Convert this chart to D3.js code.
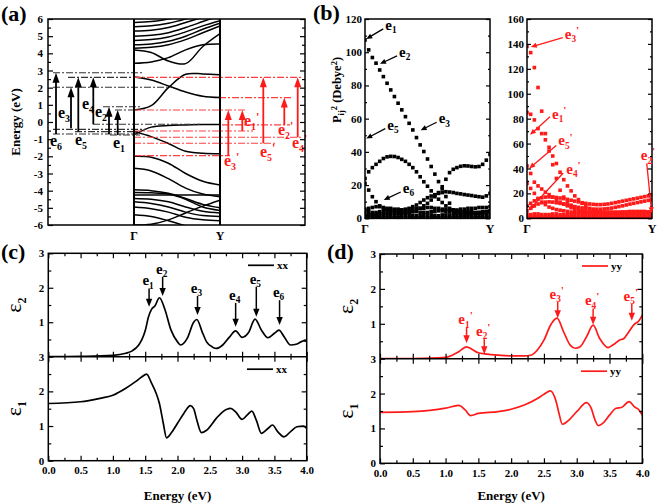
<!DOCTYPE html>
<html><head><meta charset="utf-8">
<script src="https://cdn.jsdelivr.net/npm/d3@7"></script>
<style>body{margin:0;background:#fff}</style>
</head><body><svg id="c" width="660" height="504"></svg>
<script>
// ================= DATA =================
// (a) band structure, energies (eV) at fractional k from Γ to Y
const kNodes = [0, 0.2, 0.4, 0.6, 0.8, 1.0];
const conductionBands = [
  [0.70, 0.95, 2.0, 2.78, 2.8, 2.75],
  [2.62, 2.45, 2.1, 1.75, 1.5, 1.42],
  [3.42, 3.5, 3.75, 4.2, 4.5, 4.55],
  [4.2, 4.05, 3.55, 3.4, 4.4, 5.15],
  [4.3, 4.35, 4.5, 4.8, 5.2, 5.6],
  [4.5, 4.55, 4.7, 5.0, 5.4, 5.75],
  [4.75, 4.8, 4.95, 5.25, 5.6, 5.9],
  [5.0, 5.05, 5.2, 5.5, 5.85, 6.2],
  [5.3, 5.35, 5.5, 5.8, 6.1, 6.4],
  [5.55, 5.6, 5.75, 6.0, 6.3, 6.5],
  [5.8, 5.85, 6.0, 6.2, 6.4, 6.6]
];
const valenceBands = [
  [-0.75, -0.3, -0.2, -0.17, -0.15, -0.15],
  [-0.55, -0.85, -1.25, -1.7, -1.82, -1.85],
  [-2.0, -2.05, -2.4, -3.0, -3.45, -3.67],
  [-2.7, -2.85, -3.3, -3.85, -4.2, -4.35],
  [-3.95, -4.0, -4.15, -4.45, -4.8, -5.0],
  [-4.1, -4.12, -4.2, -4.5, -4.95, -5.15],
  [-4.25, -4.25, -4.25, -4.25, -4.25, -4.25],
  [-4.45, -4.5, -4.65, -4.95, -5.2, -5.3],
  [-4.65, -4.75, -4.95, -5.25, -5.45, -5.5],
  [-4.95, -5.05, -5.25, -5.55, -5.7, -5.75],
  [-6.0, -5.95, -5.7, -5.3, -4.9, -4.55],
  [-5.4, -5.5, -5.75, -6.05, -6.3, -6.4]
];
const yTicksA = [-6,-5,-4,-3,-2,-1,0,1,2,3,4,5,6];
// transitions xx (black) and yy (red)
const xxLabels = ["6","3","5","4","2","1"];
const xxFrom   = [-0.7, -0.37, -0.55, -0.13, -0.7, -0.76];
const xxTo     = [2.87, 2.02, 2.6, 2.6, 0.89, 0.7];
const yyLabels = ["3","1","5","2","4"];
const yyFrom   = [-1.96, -0.52, -1.24, -0.17, -0.89];
const yyTo     = [0.7, 0.7, 2.6, 1.42, 2.6];
const blackLevels = [2.87, 2.6, 2.02, 0.89, 0.7, -0.13, -0.43, -0.56, -0.7, -0.76];
const redLevels   = [2.6, 1.42, 0.7, -0.17, -0.52, -0.89, -1.24, -1.96];

// (b) Pij^2 (Debye^2), 35 k-points from Γ to Y
const xxP1 = [107.4,101.4,96.8,93.4,89.3,85.3,81.3,77.3,73.3,69.3,65.3,61.2,57.2,53.2,48.6,44.2,40.2,35.7,31.2,26.6,22.1,17.7,13.1,9.1,5.1,3,2.5,2,2.5,3,3,3.5,3.5,4,4];
const xxP2 = [24,28,30.5,32.5,34.3,36,37,37.3,37.2,36.6,35.5,34.3,32.5,30.5,28,25,22,19.3,16.5,14,11.5,9.5,7.5,6,5,4.5,4,4,3.5,3.5,3,3,3,3.5,4];
const xxP3 = [21,17,13,10,7.5,6,5.5,5,5,5,5,5.5,6,7,8,9.5,11,12.4,13.4,14.2,15,15.5,16,15.8,15.5,15,14.7,14.3,14,13.7,13.3,13,12.7,13.5,15];
const xxP4 = [2,2,2.5,2.5,2.5,3,3,3,3,3,3,3,3.5,4,5,6,7.5,9,11,13,15.5,19,23.5,27.5,29.5,30.5,31.3,31.6,31.5,31.2,31,31.2,32.5,35,38.5];
const xxP5 = [5.5,6,6.5,7,7,6.5,6,6,5.5,5.5,5,5,5.5,5.5,6,6,6,6.5,6.5,6,6,5.5,5.5,5.5,5,5,5.5,5.5,6,6,6,6.5,6.5,6.5,7];
const xxP6 = [4,4,3.5,3.5,4,4,4.5,4,4,3.5,3.5,3.5,4,4,4,3.5,3.5,3.5,4,4,4.5,4.5,4,4,3.5,3.5,3.5,4,4,4,3.5,3.5,4,4,4.5];
const xxP7 = [1.5,2,2,1.5,1.5,2,2,1.5,1.5,1.5,2,2,2,1.5,1.5,1.5,2,2,2,1.5,1.5,2,2,2,1.5,1.5,1.5,2,2,2,1.5,1.5,2,2,2];
const xxP8 = [0.4,0.3,0.3,0.4,0.4,0.3,0.3,0.4,0.4,0.3,0.3,0.4,0.4,0.3,0.3,0.4,0.4,0.3,0.3,0.4,0.4,0.3,0.3,0.4,0.4,0.3,0.3,0.4,0.4,0.3,0.3,0.4,0.4,0.3,0.3];
const yyP1 = [138,133,121,105,86,68,54,43,32,22.5,17,13,10.5,9,7.5,6,5,4.5,4.5,4.5,4,4,4,4,4,4,4,4.5,4.5,4.5,4.5,4.5,4.5,4.5,4.5];
const yyP2 = [85,83.5,79,72,68,63,57,50,44,37,31,26,22,18,15,12,10,8,6.5,5.5,5,5,5,5,5,5,5,5,5.5,5.5,5.5,5.5,5.5,5,5];
const yyP3 = [42,36,29,26,23.5,21,19,17,15,13,11.5,10,8.5,7,6,5.5,5,5,5,5,4.5,4.5,4.5,4.5,4.5,4.5,5,5,5,5,5,5,5,5,4.5];
const yyP4 = [28,24,20,16,13,11,9,8,7,6.5,6,5.5,5,5,5,5,5,4.5,4.5,4.5,4.5,4.5,4.5,4.5,4.5,4.5,4.5,4.5,4.5,4.5,4.5,4.5,4.5,4.5,4];
const yyP5 = [10,12,14,15.5,16.5,17,17.2,17,16.7,16.3,15.8,15.2,14.5,13.8,13.2,12.5,12,11.5,11.2,11,11,11.2,11.5,12,12.6,13.2,13.8,14.4,15,15.6,16.2,16.8,17.4,18,18.7];
const yyP6 = [6,8,10,11.5,12.5,13,13.2,13,12.5,12,11.3,10.6,10,9.4,8.8,8.3,7.9,7.6,7.4,7.3,7.3,7.5,7.8,8.2,8.8,9.4,10,10.7,11.4,12,12.6,13.2,13.8,14.4,15];
const yyP7 = [3,3,3.5,3.5,3,3,3,3.5,3.5,3,3,3,3,3.5,3.5,3,3,3,3,3.5,3.5,3,3,3,3,3.5,3.5,3,3,3,3,3.5,3.5,3,3];
const yyP8 = [1.5,1.5,1.8,1.8,1.5,1.5,1.8,1.8,1.5,1.5,1.8,1.8,1.5,1.5,1.8,1.8,1.5,1.5,1.8,1.8,1.5,1.5,1.8,1.8,1.5,1.5,1.8,1.8,1.5,1.5,1.8,1.8,1.5,1.5,1.8];
const yyP9 = [0.3,0.3,0.4,0.4,0.3,0.3,0.4,0.4,0.3,0.3,0.4,0.4,0.3,0.3,0.4,0.4,0.3,0.3,0.4,0.4,0.3,0.3,0.4,0.4,0.3,0.3,0.4,0.4,0.3,0.3,0.4,0.4,0.3,0.3,0.4];
const yTicksBL = [0,20,40,60,80,100,120];
const yTicksBR = [0,20,40,60,80,100,120,140,160];
// (b) arrow tips (k, value)
const xxArrowLab = ["1","2","3","5","6"];
const xxArrowK   = [0.01, 0.12, 0.445, 0.01, 0.15];
const xxArrowV   = [108, 93, 53, 48, 11];
const yyArrowLab = ["3","1","5","4","2"];
const yyArrowK   = [0.03, 0.024, 0.018, 0.018, 0.998];
const yyArrowV   = [137.5, 67, 40, 6.7, 4];

// (c) xx dielectric function
const eps2xxE = [0,0.5,1.0,1.2,1.3,1.4,1.45,1.5,1.55,1.6,1.65,1.72,1.8,1.9,2.0,2.05,2.15,2.25,2.3,2.38,2.45,2.55,2.6,2.7,2.8,2.9,3.0,3.1,3.2,3.3,3.4,3.5,3.57,3.65,3.75,3.85,3.95,4.0];
const eps2xx  = [0,0.01,0.04,0.1,0.17,0.34,0.5,0.75,1.15,1.38,1.47,1.71,1.4,0.77,0.43,0.34,0.53,1.0,1.08,0.73,0.43,0.27,0.24,0.34,0.56,0.75,0.56,0.7,1.09,0.77,0.55,0.68,0.77,0.58,0.34,0.37,0.46,0.45];
const eps1xxE = [0,0.5,0.8,1.0,1.2,1.35,1.45,1.52,1.6,1.67,1.72,1.78,1.83,1.9,2.0,2.1,2.2,2.25,2.3,2.37,2.45,2.6,2.7,2.82,2.9,3.0,3.08,3.15,3.22,3.3,3.4,3.47,3.55,3.65,3.75,3.85,3.95,4.0];
const eps1xx  = [1.65,1.7,1.8,1.89,2.09,2.28,2.42,2.5,2.23,1.94,1.65,1.08,0.66,0.79,1.08,1.37,1.59,1.5,1.17,0.81,0.88,1.22,1.41,1.51,1.41,1.19,1.32,1.43,1.17,0.79,0.93,1.03,0.84,0.69,0.84,0.98,1.0,0.93];
const xxPeakE    = [1.56, 1.77, 2.31, 2.9, 3.22, 3.58];
const xxPeakTip  = [1.45, 1.76, 1.21, 0.87, 1.16, 0.92];
const xxPeakTail = [1.98, 2.32, 1.76, 1.56, 2.03, 1.64];
const xxPeakLab  = ["1","2","3","4","5","6"];
// (d) yy dielectric function
const eps2yyE = [0,0.5,1.0,1.1,1.2,1.32,1.4,1.5,1.6,1.8,2.0,2.2,2.3,2.4,2.5,2.6,2.7,2.8,2.9,2.98,3.05,3.15,3.25,3.35,3.48,3.55,3.65,3.72,3.78,3.88,3.95,4.0];
const eps2yy  = [0,0.005,0.04,0.1,0.2,0.34,0.27,0.17,0.14,0.1,0.08,0.08,0.1,0.25,0.53,0.96,1.16,0.77,0.39,0.3,0.34,0.63,0.96,0.58,0.32,0.39,0.53,0.58,0.73,0.99,1.09,1.25];
const eps1yyE = [0,0.5,1.0,1.2,1.3,1.38,1.5,1.8,2.0,2.2,2.4,2.5,2.6,2.68,2.73,2.78,2.85,3.0,3.15,3.22,3.28,3.33,3.4,3.5,3.6,3.68,3.8,3.88,3.95,4.0];
const eps1yy  = [1.46,1.48,1.58,1.66,1.53,1.37,1.43,1.48,1.55,1.67,1.86,1.98,2.08,1.81,1.43,1.12,1.19,1.48,1.74,1.58,1.24,1.08,1.15,1.38,1.58,1.6,1.77,1.62,1.53,1.38];
const yyPeakE    = [1.32, 1.59, 2.71, 3.25, 3.84];
const yyPeakTip  = [0.44, 0.13, 1.16, 0.97, 1.09];
const yyPeakTail = [0.9, 0.56, 1.63, 1.44, 1.57];
const yyPeakLab  = ["1","2","3","4","5"];
const xTicksE = [0,0.5,1,1.5,2,2.5,3,3.5,4];

// ================= LAYOUT / STYLE =================
const FONT = '"Liberation Serif","Times New Roman",serif';
const RED = "#ff1a1a";
const svg = d3.select("#c").style("font-family", FONT).style("font-weight", "bold");
const defs = svg.append("defs");
function clip(id, x0, y0, x1, y1) {
  defs.append("clipPath").attr("id", id).append("rect")
    .attr("x", x0).attr("y", y0).attr("width", x1 - x0).attr("height", y1 - y0);
}
function frame(x0, y0, x1, y1, w) {
  svg.append("rect").attr("x", x0).attr("y", y0).attr("width", x1 - x0).attr("height", y1 - y0)
    .attr("fill", "none").attr("stroke", "#000").attr("stroke-width", w || 1.5);
}
function addAxis(kind, scale, pos, vals, size, fmt, fs, pad) {
  const ax = d3[kind](scale).tickValues(vals).tickSizeInner(size).tickSizeOuter(0)
    .tickPadding(pad == null ? 3 : pad).tickFormat(fmt || (() => ""));
  const vert = kind === "axisLeft" || kind === "axisRight";
  const g = svg.append("g").attr("transform", vert ? `translate(${pos},0)` : `translate(0,${pos})`).call(ax);
  g.attr("font-family", FONT);
  g.select(".domain").remove();
  g.selectAll(".tick line").attr("stroke", "#000").attr("stroke-width", 1.2);
  g.selectAll(".tick text").attr("font-family", FONT).attr("font-weight", "bold")
    .attr("font-size", fs || 11).attr("fill", "#000");
  return g;
}
function arrow(g, x1, y1, x2, y2, color, L, hw, sw) {
  const dx = x2 - x1, dy = y2 - y1, d = Math.hypot(dx, dy), ux = dx / d, uy = dy / d;
  const bx = x2 - ux * L, by = y2 - uy * L;
  g.append("line").attr("x1", x1).attr("y1", y1).attr("x2", bx + ux).attr("y2", by + uy)
    .attr("stroke", color).attr("stroke-width", sw);
  g.append("path").attr("d", `M${x2},${y2}L${bx - uy * hw},${by + ux * hw}L${bx + uy * hw},${by - ux * hw}Z`)
    .attr("fill", color);
}
function eLabel(g, x, y, sub, prime, color, fs, anchor) {
  const t = g.append("text").attr("x", x).attr("y", y).attr("fill", color)
    .attr("font-size", fs).attr("text-anchor", anchor || "start");
  t.append("tspan").text("e");
  t.append("tspan").attr("font-size", fs * 0.62).attr("dy", fs * 0.22).text(sub);
  if (prime) t.append("tspan").attr("font-size", fs * 0.75).attr("dy", -fs * 0.55).text("'");
}
function panelLabel(x, y, s) {
  svg.append("text").attr("x", x).attr("y", y).attr("font-size", 22).text(s);
}
const ident = d => String(d);

// ================= PANEL (a) =================
const aX0 = 48, aX1 = 305, aGam = 134, aYp = 220;
const aY = d3.scaleLinear().domain([-6, 6]).range([225, 19]);
const aK = d3.scaleLinear().domain([0, 1]).range([aGam, aYp]);
clip("clipA", aGam, 19, aYp, 225);
const gA = svg.append("g");
const bandLine = d3.line().x((d, i) => aK(kNodes[i])).y(d => aY(d)).curve(d3.curveCatmullRom.alpha(0.5));
gA.append("g").attr("clip-path", "url(#clipA)").selectAll("path")
  .data(conductionBands.concat(valenceBands)).join("path")
  .attr("d", bandLine).attr("fill", "none").attr("stroke", "#000").attr("stroke-width", 1.5);

const blackSpan = [[53,143],[68,143],[53,167],[103,140],[115,134],[93,200],[53,145],[75,140],[53,140],[110,140]];
const redSpan   = [[134,302],[219,292],[134,247],[222,290],[134,253],[134,302],[134,277],[134,230]];
gA.selectAll("line.bl").data(blackLevels).join("line").attr("class", "bl")
  .attr("x1", (d, i) => blackSpan[i][0]).attr("x2", (d, i) => blackSpan[i][1])
  .attr("y1", d => aY(d)).attr("y2", d => aY(d))
  .attr("stroke", "#333").attr("stroke-width", 1.1).attr("stroke-dasharray", "7,2,2,2");
gA.selectAll("line.rl").data(redLevels).join("line").attr("class", "rl")
  .attr("x1", (d, i) => redSpan[i][0]).attr("x2", (d, i) => redSpan[i][1])
  .attr("y1", d => aY(d)).attr("y2", d => aY(d))
  .attr("stroke", "#ff4040").attr("stroke-width", 1.1).attr("stroke-dasharray", "7,2,2,2");

const xxArrowX = [56, 71, 78.3, 93.3, 109, 117.7];
const xxLabPos = [[50,146],[58,118],[75,145],[82,109],[95,117],[113,148]];
xxLabels.forEach((s, i) => {
  arrow(gA, xxArrowX[i], aY(xxFrom[i]), xxArrowX[i], aY(xxTo[i]), "#000", 10, 3.5, 1.8);
  eLabel(gA, xxLabPos[i][0], xxLabPos[i][1], s, false, "#000", 16);
});
const yyArrowX = [228.3, 242.3, 263.3, 284.3, 297.7];
const yyLabPos = [[224,166],[244,126],[260,157],[278,135],[292,148]];
yyLabels.forEach((s, i) => {
  arrow(gA, yyArrowX[i], aY(yyFrom[i]), yyArrowX[i], aY(yyTo[i]), RED, 10, 3.5, 1.8);
  eLabel(gA, yyLabPos[i][0], yyLabPos[i][1], s, true, RED, 16);
});

addAxis("axisLeft", aY, aX0, yTicksA, -5, ident, 11, 5);
addAxis("axisLeft", aY, aX0, d3.range(-5.5, 6, 1), -3);
addAxis("axisRight", aY, aX1, yTicksA, -5);
addAxis("axisRight", aY, aX1, d3.range(-5.5, 6, 1), -3);
frame(aX0, 19, aX1, 225, 1.5);
svg.append("line").attr("x1", aGam).attr("x2", aGam).attr("y1", 19).attr("y2", 225).attr("stroke", "#000").attr("stroke-width", 2);
svg.append("line").attr("x1", aYp).attr("x2", aYp).attr("y1", 19).attr("y2", 225).attr("stroke", "#000").attr("stroke-width", 2);
svg.append("text").attr("x", aGam).attr("y", 240).attr("text-anchor", "middle").attr("font-size", 12).text("Γ");
svg.append("text").attr("x", aYp).attr("y", 240).attr("text-anchor", "middle").attr("font-size", 12).text("Y");
svg.append("text").attr("transform", "translate(20,122) rotate(-90)").attr("text-anchor", "middle")
  .attr("font-size", 13).text("Energy (eV)");
panelLabel(1, 21, "(a)");

// ================= PANEL (b) =================
const bTop = 19, bBot = 218.3;
const bLK = d3.scaleLinear().domain([0, 1]).range([365, 490]);
const bLY = d3.scaleLinear().domain([0, 120]).range([bBot, bTop]);
const bRK = d3.scaleLinear().domain([0, 1]).range([527, 652]);
const bRY = d3.scaleLinear().domain([0, 160]).range([bBot, bTop]);
clip("clipBL", 365, bTop, 490, bBot + 1);
clip("clipBR", 527, bTop, 652, bBot + 1);
const nK = xxP1.length;
function scatter(series, kx, vy, color, clipId) {
  const pts = [];
  series.forEach(s => s.forEach((v, i) => pts.push([i / (nK - 1), v])));
  svg.append("g").attr("clip-path", `url(#${clipId})`).selectAll("rect").data(pts).join("rect")
    .attr("x", d => kx(d[0]) - 1.8).attr("y", d => vy(d[1]) - 1.8)
    .attr("width", 3.6).attr("height", 3.6).attr("fill", color);
}
scatter([xxP8, xxP7, xxP6, xxP5, xxP4, xxP3, xxP2, xxP1], bLK, bLY, "#000", "clipBL");
scatter([yyP9, yyP8, yyP7, yyP6, yyP5, yyP4, yyP3, yyP2, yyP1], bRK, bRY, RED, "clipBR");

addAxis("axisLeft", bLY, 365, yTicksBL, -4, ident, 11, 3);
addAxis("axisLeft", bLY, 365, d3.range(10, 120, 20), -2);
addAxis("axisRight", bLY, 490, yTicksBL, -4);
addAxis("axisRight", bLY, 490, d3.range(10, 120, 20), -2);
addAxis("axisLeft", bRY, 527, yTicksBR, -4, ident, 11, 3);
addAxis("axisLeft", bRY, 527, d3.range(10, 160, 20), -2);
addAxis("axisRight", bRY, 652, yTicksBR, -4);
addAxis("axisRight", bRY, 652, d3.range(10, 160, 20), -2);
frame(365, bTop, 490, bBot, 1.5);
frame(527, bTop, 652, bBot, 1.5);
[[365, "Γ"], [490, "Y"], [527, "Γ"], [652, "Y"]].forEach(d =>
  svg.append("text").attr("x", d[0]).attr("y", 233).attr("text-anchor", "middle").attr("font-size", 12).text(d[1]));

const gB = svg.append("g");
const xxTail = [[17, -10], [17, -8], [16, -8], [19, -10], [17, -8]];
xxArrowLab.forEach((s, i) => {
  const tx = bLK(xxArrowK[i]), ty = bLY(xxArrowV[i]);
  const sx = tx + xxTail[i][0], sy = ty + xxTail[i][1];
  arrow(gB, sx, sy, tx, ty, "#000", 6, 2.6, 1.3);
  eLabel(gB, sx + 2, sy + 1, s, false, "#000", 15);
});
const yyTail = [[32, -9.4], [20, -18], [27, -23], [34, -37], [-5, -50]];
const yyLabOff = [[2, 1], [2, 2], [2, 0], [3, 1], [-6, -3]];
yyArrowLab.forEach((s, i) => {
  const tx = bRK(yyArrowK[i]), ty = bRY(yyArrowV[i]);
  const sx = tx + yyTail[i][0], sy = ty + yyTail[i][1];
  arrow(gB, sx, sy, tx, ty, RED, 6, 2.6, 1.3);
  eLabel(gB, sx + yyLabOff[i][0], sy + yyLabOff[i][1], s, true, RED, 15);
});
const pl = svg.append("text").attr("transform", "translate(341,90) rotate(-90)").attr("text-anchor", "middle").attr("font-size", 12.5);
pl.append("tspan").text("P");
pl.append("tspan").attr("font-size", 8.5).attr("dy", 3).text("ij");
pl.append("tspan").attr("font-size", 8.5).attr("dy", -7).text("2");
pl.append("tspan").attr("dy", 4).text(" (Debye");
pl.append("tspan").attr("font-size", 8.5).attr("dy", -4).text("2");
pl.append("tspan").attr("dy", 4).text(")");
panelLabel(313, 20, "(b)");

// ================= PANELS (c) and (d) =================
function epsPanel(o) {
  const X = d3.scaleLinear().domain([0, 4]).range([o.x0, o.x1]);
  const Y2 = d3.scaleLinear().domain([0, 3]).range([o.ym, o.yt]);
  const Y1 = d3.scaleLinear().domain([0, 3]).range([o.yb, o.ym]);
  const id = "clip" + o.name;
  clip(id + "u", o.x0, o.yt, o.x1, o.ym);
  clip(id + "l", o.x0, o.ym, o.x1, o.yb);
  const line2 = d3.line().x((d, i) => X(o.e2E[i])).y(d => Y2(d)).curve(d3.curveMonotoneX);
  const line1 = d3.line().x((d, i) => X(o.e1E[i])).y(d => Y1(d)).curve(d3.curveMonotoneX);
  svg.append("path").attr("clip-path", `url(#${id}u)`).datum(o.e2).attr("d", line2)
    .attr("fill", "none").attr("stroke", o.color).attr("stroke-width", 1.7);
  svg.append("path").attr("clip-path", `url(#${id}l)`).datum(o.e1).attr("d", line1)
    .attr("fill", "none").attr("stroke", o.color).attr("stroke-width", 1.7);
  // axes
  const minorX = d3.range(0.25, 4, 0.5);
  addAxis("axisBottom", X, o.yb, xTicksE, -5, d3.format(".1f"), 11, 6);
  addAxis("axisBottom", X, o.yb, minorX, -3);
  addAxis("axisTop", X, o.ym, xTicksE, -5);
  addAxis("axisTop", X, o.ym, minorX, -3);
  addAxis("axisBottom", X, o.ym, xTicksE, -5);
  addAxis("axisBottom", X, o.ym, minorX, -3);
  addAxis("axisTop", X, o.yt, xTicksE, -5);
  addAxis("axisTop", X, o.yt, minorX, -3);
  addAxis("axisLeft", Y2, o.x0, [1, 2, 3], -5, ident, 11, 4);
  addAxis("axisLeft", Y2, o.x0, [0.5, 1.5, 2.5], -3);
  addAxis("axisRight", Y2, o.x1, [1, 2], -5);
  addAxis("axisRight", Y2, o.x1, [0.5, 1.5, 2.5], -3);
  addAxis("axisLeft", Y1, o.x0, [0, 1, 2, 3], -5, ident, 11, 4);
  addAxis("axisLeft", Y1, o.x0, [0.5, 1.5, 2.5], -3);
  addAxis("axisRight", Y1, o.x1, [1, 2], -5);
  addAxis("axisRight", Y1, o.x1, [0.5, 1.5, 2.5], -3);
  frame(o.x0, o.yt, o.x1, o.yb, 1.5);
  svg.append("line").attr("x1", o.x0).attr("x2", o.x1).attr("y1", o.ym).attr("y2", o.ym)
    .attr("stroke", "#000").attr("stroke-width", 1.5);
  // legends
  [[o.yt + 12, 0], [o.ym + 12.5, 0]].forEach((d, j) => {
    const lx = o.legX + (j ? -1 : 0);
    svg.append("line").attr("x1", lx).attr("x2", lx + 26).attr("y1", d[0]).attr("y2", d[0])
      .attr("stroke", o.color).attr("stroke-width", 1.7);
    svg.append("text").attr("x", lx + 29).attr("y", d[0] + 4).attr("font-size", 11).text(o.leg);
  });
  // peak arrows
  const g = svg.append("g");
  o.pkE.forEach((e, i) => {
    const x = X(e);
    arrow(g, x, Y2(o.pkTail[i]), x, Y2(o.pkTip[i]), o.color, 8, 3.2, 1.5);
    eLabel(g, x - 1, Y2(o.pkTail[i]) - 3, o.pkLab[i], o.prime, o.color, 15, "middle");
  });
  // axis titles
  const t2 = svg.append("text").attr("transform", `translate(${o.x0 - 27},${(o.yt + o.ym) / 2}) rotate(-90)`)
    .attr("text-anchor", "middle").attr("font-size", 22).attr("fill", "#000");
  t2.append("tspan").attr("font-weight", "normal").text("ε");
  t2.append("tspan").attr("font-size", 12).attr("dy", 5).text("2");
  const t1 = svg.append("text").attr("transform", `translate(${o.x0 - 27},${(o.ym + o.yb) / 2}) rotate(-90)`)
    .attr("text-anchor", "middle").attr("font-size", 22).attr("fill", "#000");
  t1.append("tspan").attr("font-weight", "normal").text("ε");
  t1.append("tspan").attr("font-size", 12).attr("dy", 5).text("1");
  svg.append("text").attr("x", (o.x0 + o.x1) / 2).attr("y", 500).attr("text-anchor", "middle")
    .attr("font-size", 13).text("Energy (eV)");
}
epsPanel({name: "C", x0: 48.3, x1: 306.7, yt: 253.3, ym: 356.7, yb: 460.7, color: "#000",
  e2E: eps2xxE, e2: eps2xx, e1E: eps1xxE, e1: eps1xx, legX: 248, leg: "xx",
  pkE: xxPeakE, pkTip: xxPeakTip, pkTail: xxPeakTail, pkLab: xxPeakLab, prime: false});
epsPanel({name: "D", x0: 380, x1: 642.3, yt: 254, ym: 358.7, yb: 463.3, color: RED,
  e2E: eps2yyE, e2: eps2yy, e1E: eps1yyE, e1: eps1yy, legX: 582, leg: "yy",
  pkE: yyPeakE, pkTip: yyPeakTip, pkTail: yyPeakTail, pkLab: yyPeakLab, prime: true});
panelLabel(1, 259, "(c)");
panelLabel(327, 259, "(d)");
</script></body></html>
